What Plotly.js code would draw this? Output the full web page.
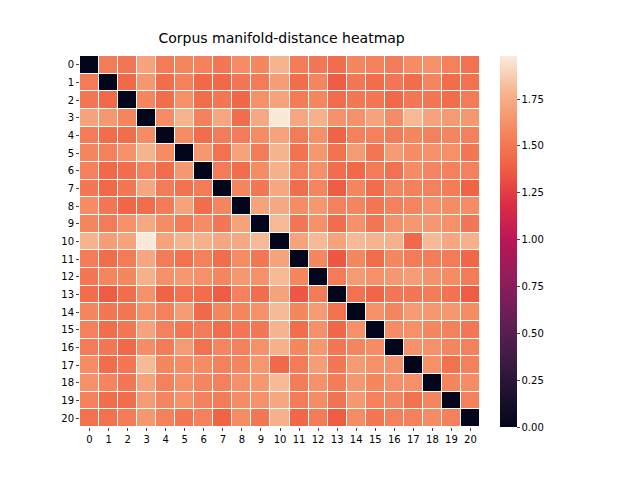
<!DOCTYPE html>
<html><head><script src="https://cdn.plot.ly/plotly-3.0.1.min.js"></script></head>
<body style="margin:0"><div id="c" style="width:640px;height:480px"></div>
<script>
const labels = [0,1,2,3,4,5,6,7,8,9,10,11,12,13,14,15,16,17,18,19,20].map(String);
const distances = [
[0,1.52,1.50,1.70,1.52,1.58,1.55,1.50,1.60,1.58,1.78,1.53,1.50,1.45,1.58,1.55,1.52,1.60,1.62,1.55,1.47],
[1.52,0,1.43,1.65,1.45,1.55,1.43,1.43,1.50,1.52,1.68,1.45,1.57,1.37,1.50,1.45,1.50,1.45,1.57,1.45,1.47],
[1.50,1.43,0,1.57,1.45,1.62,1.45,1.50,1.42,1.62,1.70,1.52,1.58,1.45,1.50,1.50,1.43,1.50,1.50,1.45,1.52],
[1.70,1.65,1.57,0,1.60,1.78,1.55,1.72,1.45,1.73,1.97,1.72,1.77,1.63,1.62,1.70,1.60,1.80,1.70,1.67,1.65],
[1.52,1.45,1.45,1.60,0,1.60,1.45,1.52,1.52,1.60,1.70,1.52,1.62,1.40,1.55,1.55,1.52,1.58,1.55,1.57,1.55],
[1.58,1.55,1.62,1.78,1.60,0,1.65,1.47,1.70,1.52,1.78,1.47,1.65,1.47,1.67,1.50,1.67,1.60,1.62,1.62,1.50],
[1.55,1.43,1.45,1.55,1.45,1.65,0,1.52,1.45,1.60,1.77,1.55,1.62,1.45,1.43,1.52,1.47,1.60,1.57,1.55,1.55],
[1.50,1.43,1.50,1.72,1.52,1.47,1.52,0,1.57,1.50,1.72,1.45,1.57,1.37,1.57,1.45,1.57,1.55,1.55,1.53,1.40],
[1.60,1.50,1.42,1.45,1.52,1.70,1.45,1.57,0,1.70,1.73,1.60,1.65,1.55,1.57,1.50,1.55,1.57,1.62,1.60,1.60],
[1.58,1.52,1.62,1.73,1.60,1.52,1.60,1.50,1.70,0,1.80,1.50,1.62,1.45,1.62,1.50,1.62,1.65,1.65,1.62,1.50],
[1.78,1.68,1.70,1.97,1.70,1.78,1.77,1.72,1.73,1.80,0,1.70,1.80,1.70,1.80,1.78,1.77,1.43,1.80,1.72,1.77],
[1.53,1.45,1.52,1.72,1.52,1.47,1.55,1.45,1.60,1.50,1.70,0,1.58,1.35,1.58,1.45,1.58,1.52,1.53,1.52,1.42],
[1.50,1.57,1.58,1.77,1.62,1.65,1.62,1.57,1.65,1.62,1.80,1.58,0,1.52,1.67,1.62,1.65,1.68,1.63,1.60,1.52],
[1.45,1.37,1.45,1.63,1.40,1.47,1.45,1.37,1.55,1.45,1.70,1.35,1.52,0,1.47,1.42,1.50,1.50,1.53,1.48,1.37],
[1.58,1.50,1.50,1.62,1.55,1.67,1.43,1.57,1.57,1.62,1.80,1.58,1.67,1.47,0,1.62,1.57,1.67,1.65,1.65,1.60],
[1.55,1.45,1.50,1.70,1.55,1.50,1.52,1.45,1.50,1.50,1.78,1.45,1.62,1.42,1.62,0,1.60,1.62,1.58,1.55,1.50],
[1.52,1.50,1.43,1.60,1.52,1.67,1.47,1.57,1.55,1.62,1.77,1.58,1.65,1.50,1.57,1.60,0,1.63,1.62,1.57,1.55],
[1.60,1.45,1.50,1.80,1.58,1.60,1.60,1.55,1.57,1.65,1.43,1.52,1.68,1.50,1.67,1.62,1.63,0,1.62,1.47,1.55],
[1.62,1.57,1.50,1.70,1.55,1.62,1.57,1.55,1.62,1.65,1.80,1.53,1.63,1.53,1.65,1.58,1.62,1.62,0,1.57,1.60],
[1.55,1.45,1.45,1.67,1.57,1.62,1.55,1.53,1.60,1.62,1.72,1.52,1.60,1.48,1.65,1.55,1.57,1.47,1.57,0,1.55],
[1.47,1.47,1.52,1.65,1.55,1.50,1.55,1.40,1.60,1.50,1.77,1.42,1.52,1.37,1.60,1.50,1.55,1.55,1.60,1.55,0]
];
const cbTicks = [0,0.25,0.5,0.75,1,1.25,1.5,1.75];
const rocket = [[0,'#03051a'],[0.1,'#221331'],[0.2,'#451c47'],[0.3,'#6a1f56'],[0.4,'#921c5b'],[0.5,'#b91657'],[0.6,'#dd2c45'],[0.7,'#f06043'],[0.8,'#f58860'],[0.9,'#f6b48e'],[1,'#faebdd']];
const f = {family:'DejaVu Sans', size:10, color:'#000'};
Plotly.newPlot('c', [{
  type:'heatmap', z:distances, x:labels, y:labels, colorscale:rocket, zmin:0, zmax:1.98,
  xgap:1, ygap:1,
  colorbar:{x:1.05, xanchor:'left', y:0.5, yanchor:'middle', len:1, lenmode:'fraction', thickness:17,
    outlinewidth:0, tickvals:cbTicks, ticktext:cbTicks.map(v=>v.toFixed(2)), ticks:'outside', ticklen:3, tickfont:f, xpad:0, ypad:0}
}], {
  width:640, height:480, margin:{l:80, r:160, t:56, b:53},
  paper_bgcolor:'#fff', plot_bgcolor:'#fff',
  title:{text:'Corpus manifold-distance heatmap', font:{family:'DejaVu Sans', size:14, color:'#000'}, x:0.44, xanchor:'center', y:0.91, yanchor:'bottom'},
  xaxis:{type:'category', tickfont:f, ticks:'outside', ticklen:3, showgrid:false, zeroline:false, showline:false},
  yaxis:{type:'category', autorange:'reversed', tickfont:f, ticks:'outside', ticklen:3, showgrid:false, zeroline:false, showline:false},
  font:f
}, {displayModeBar:false});
</script></body></html>
